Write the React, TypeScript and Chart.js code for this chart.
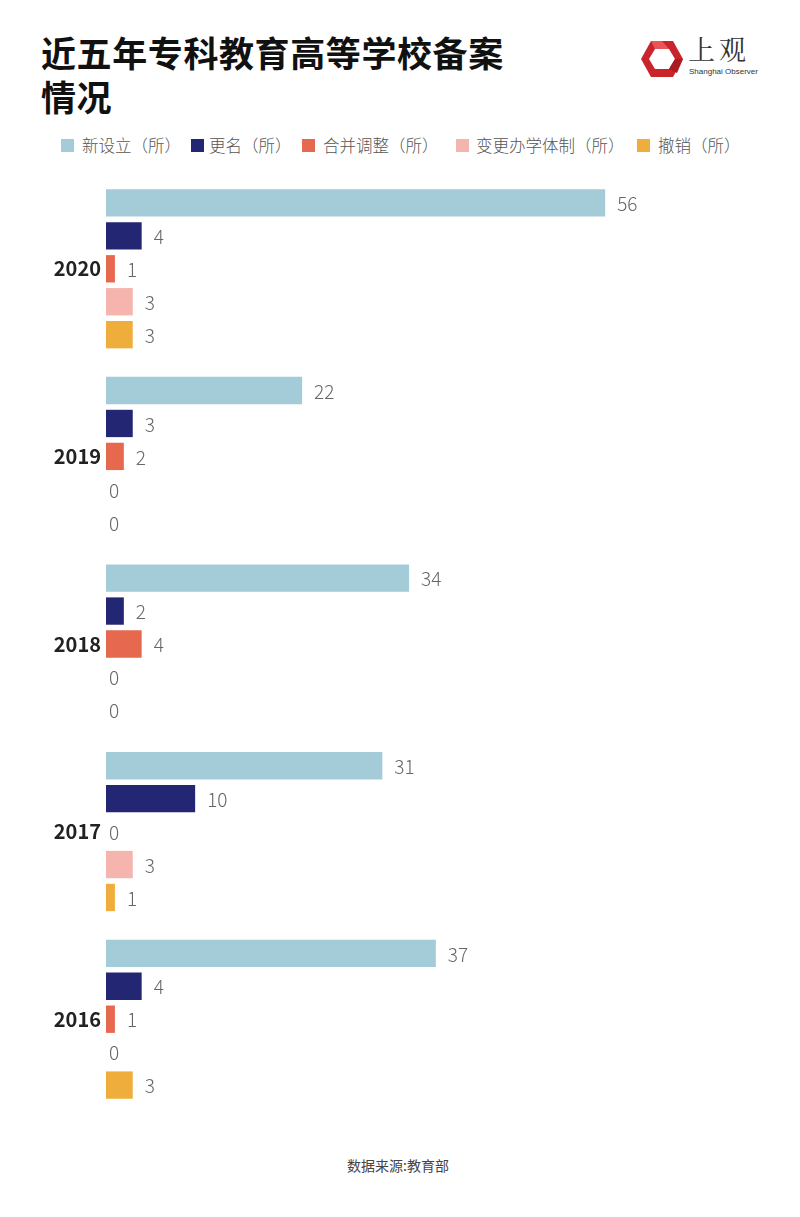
import React, { useEffect, useRef } from "react";
import { Chart, registerables } from "chart.js";

Chart.register(...registerables);

const years = ["2020", "2019", "2018", "2017", "2016"];
const seriesNames = ["新设立（所）", "更名（所）", "合并调整（所）", "变更办学体制（所）", "撤销（所）"];
const newlyEstablished = [56, 22, 34, 31, 37];
const renamed = [4, 3, 2, 10, 4];
const merged = [1, 2, 4, 0, 1];
const systemChanged = [3, 0, 0, 3, 0];
const revoked = [3, 0, 0, 1, 3];
const seriesColors = ["#a4cbd8", "#232672", "#e6684f", "#f5b4ad", "#efae3b"];

const FONT = '"Noto Sans CJK SC", "Noto Sans", sans-serif';

const valueLabelPlugin = {
  id: "valueLabels",
  afterDatasetsDraw(chart: any) {
    const ctx = chart.ctx;
    ctx.save();
    ctx.font = `300 19px ${FONT}`;
    ctx.fillStyle = "#666666";
    ctx.textAlign = "left";
    ctx.textBaseline = "middle";
    chart.data.datasets.forEach((ds: any, di: number) => {
      const meta = chart.getDatasetMeta(di);
      meta.data.forEach((el: any, i: number) => {
        const v = ds.data[i];
        const off = v === 0 ? 3 : 12;
        ctx.fillText(String(v), el.x + off, el.y + 1);
      });
    });
    ctx.restore();
  },
};

export default function App() {
  const ref = useRef<HTMLCanvasElement | null>(null);

  useEffect(() => {
    if (!ref.current) return;
    const values = [newlyEstablished, renamed, merged, systemChanged, revoked];
    const chart = new Chart(ref.current, {
      type: "bar",
      data: {
        labels: years,
        datasets: seriesNames.map((name, i) => ({
          label: name,
          data: values[i],
          backgroundColor: seriesColors[i],
          borderWidth: 0,
          categoryPercentage: 0.878,
          barPercentage: 0.83,
        })),
      },
      options: {
        indexAxis: "y",
        animation: false,
        responsive: false,
        maintainAspectRatio: false,
        layout: { autoPadding: false, padding: { left: 0, right: 70, top: 0, bottom: 0 } },
        plugins: {
          legend: { display: false },
          tooltip: { enabled: false },
          title: { display: false },
        },
        scales: {
          x: { display: false, min: 0, max: 70 },
          y: {
            grid: { display: false, drawTicks: false },
            border: { display: false },
            ticks: {
              padding: 5,
              color: "#222222",
              font: { family: FONT, size: 20, weight: "bold" },
            },
            afterFit(scale: any) {
              scale.width = 106;
            },
          },
        },
      },
      plugins: [valueLabelPlugin],
    } as any);
    return () => chart.destroy();
  }, []);

  const legendPos = [
    [61, 82],
    [191, 209],
    [302, 323],
    [456, 476],
    [637, 658],
  ];

  return (
    <div
      style={{
        position: "absolute",
        left: 0,
        top: 0,
        width: 800,
        height: 1217,
        background: "#ffffff",
        fontFamily: FONT,
        overflow: "hidden",
      }}
    >
      <div
        style={{
          position: "absolute",
          left: 41,
          top: 30,
          fontSize: 35,
          lineHeight: "44px",
          fontWeight: 700,
          color: "#111111",
          letterSpacing: 0.6,
        }}
      >
        近五年专科教育高等学校备案
        <br />
        情况
      </div>

      <svg style={{ position: "absolute", left: 640, top: 40 }} width={44} height={38} viewBox="0 0 44 38">
        <polygon points="11,1 33,1 43,19 33,37 11,37 1,19" fill="#c9242b" />
        <polygon points="15,9 29,9 35,19 29,29 15,29 9,19" fill="#ffffff" />
        <polygon points="15,9 29,9 22,1 11,1" fill="#e9565a" />
        <polygon points="35,19 29,29 37,33 43,19" fill="#a81b21" />
      </svg>
      <div
        style={{
          position: "absolute",
          left: 688,
          top: 34,
          fontSize: 27,
          lineHeight: "30px",
          color: "#333333",
          fontFamily: '"Noto Serif CJK SC", "Noto Sans CJK SC", serif',
          letterSpacing: 4,
        }}
      >
        上观
      </div>
      <div
        style={{
          position: "absolute",
          left: 689,
          top: 67,
          fontSize: 8,
          lineHeight: "10px",
          color: "#333333",
          fontFamily: '"Liberation Sans", sans-serif',
        }}
      >
        Shanghai Observer
      </div>

      {seriesNames.map((name, i) => (
        <React.Fragment key={name}>
          <div
            style={{
              position: "absolute",
              left: legendPos[i][0],
              top: 139,
              width: 13,
              height: 13,
              background: seriesColors[i],
            }}
          />
          <div
            style={{
              position: "absolute",
              left: legendPos[i][1],
              top: 133,
              fontSize: 16.5,
              lineHeight: "24px",
              fontWeight: 300,
              color: "#555555",
              whiteSpace: "nowrap",
            }}
          >
            {name}
          </div>
        </React.Fragment>
      ))}

      <canvas
        ref={ref}
        width={800}
        height={972}
        style={{ position: "absolute", left: 0, top: 158, width: 800, height: 972 }}
      />

      <div
        style={{
          position: "absolute",
          left: 0,
          width: 796,
          top: 1155,
          textAlign: "center",
          fontSize: 14,
          lineHeight: "20px",
          color: "#444444",
        }}
      >
        数据来源:教育部
      </div>
    </div>
  );
}
